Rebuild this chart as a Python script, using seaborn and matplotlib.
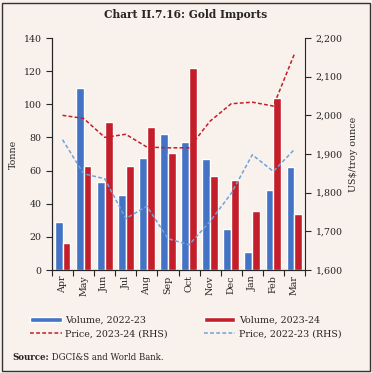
import numpy as np
import pandas as pd
import matplotlib.pyplot as plt
import seaborn as sns
from matplotlib.patches import Patch, Rectangle
from matplotlib.lines import Line2D

sns.set_style("ticks")
plt.rcParams['font.family'] = ['DejaVu Serif']

# data
months = ["Apr", "May", "Jun", "Jul", "Aug", "Sep", "Oct", "Nov", "Dec", "Jan", "Feb", "Mar"]
vol_2223 = [29, 110, 53, 45.5, 67.5, 82, 77, 67, 25, 11, 48, 62]
vol_2324 = [16, 63, 89.5, 62.5, 86, 70.5, 122, 56.5, 54.5, 35.5, 103.5, 33.5]
price_2324 = [2000, 1992, 1943, 1951, 1918, 1916, 1916, 1985, 2030, 2034, 2024, 2159]
price_2223 = [1937, 1849, 1836, 1733, 1765, 1681, 1665, 1726, 1798, 1898, 1855, 1912]

bg = "#F8F1EC"
blue = "#4472C4"
red = "#C41E2A"
lblue = "#6FA3DC"
fs = 6.8

df = pd.DataFrame({
    "month": months * 2,
    "volume": vol_2223 + vol_2324,
    "year": ["Volume, 2022-23"] * 12 + ["Volume, 2023-24"] * 12,
})

fig = plt.figure(figsize=(3.72, 3.73), dpi=100, facecolor=bg)
ax = fig.add_axes([52 / 372, 1 - 270 / 373, (305 - 52) / 372, (270 - 38) / 373])
ax.set_facecolor(bg)

sns.barplot(data=df, x="month", y="volume", hue="year", palette=[blue, red],
            width=0.74, saturation=1, ax=ax, legend=False)
ax.set_ylim(0, 140)
ax.set_yticks(np.arange(0, 141, 20))
ax.set_xlim(-0.5, 11.5)
ax.set_xlabel("")
ax.set_ylabel("Tonne", fontsize=fs, labelpad=4)
ax.set_xticks(np.arange(12))
ax.set_xticklabels(months, rotation=90)
ax.set_xticks(np.arange(-0.5, 12, 1), minor=True)
ax.tick_params(axis="x", which="major", length=0, labelsize=fs, pad=4)
ax.tick_params(axis="x", which="minor", length=4, width=0.8)
ax.tick_params(axis="y", length=4, width=0.8, labelsize=fs)
ax.spines["top"].set_visible(False)
ax.spines["right"].set_visible(False)

# price lines on the right axis
ax2 = ax.twinx()
x = np.arange(12)
sns.lineplot(x=x, y=price_2324, color=red, linestyle=(0, (2.5, 1.5)), lw=1.1, ax=ax2)
sns.lineplot(x=x, y=price_2223, color=lblue, linestyle=(0, (2.5, 1.5)), lw=1.1, ax=ax2)
ax2.set_ylim(1600, 2200)
ax2.set_yticks(np.arange(1600, 2201, 100))
ax2.set_yticklabels([f"{v:,}" for v in range(1600, 2201, 100)])
ax2.tick_params(axis="y", length=4, width=0.8, labelsize=fs)
ax2.set_ylabel("US$/troy ounce", fontsize=fs, rotation=90, labelpad=5)
ax2.spines["top"].set_visible(False)
ax2.set_xlim(-0.5, 11.5)

fig.text(0.5, 1 - 15 / 373, "Chart II.7.16: Gold Imports", ha="center", va="center",
         fontsize=7.7, fontweight="bold")

handles = [
    Patch(facecolor=blue), Patch(facecolor=red),
    Line2D([], [], color=red, linestyle=(0, (2.5, 1.5)), lw=1.1),
    Line2D([], [], color=lblue, linestyle=(0, (2.5, 1.5)), lw=1.1),
]
labels = ["Volume, 2022-23", "Volume, 2023-24", "Price, 2023-24 (RHS)", "Price, 2022-23 (RHS)"]
order = [0, 2, 1, 3]
fig.legend([handles[i] for i in order], [labels[i] for i in order], ncol=2,
           loc="center", bbox_to_anchor=(0.5, 1 - 327 / 373), frameon=False,
           fontsize=fs, handlelength=3.3, handleheight=0.45, columnspacing=3.8,
           handletextpad=0.4, labelspacing=0.45)

src = fig.text(12 / 372, 1 - 358 / 373, "Source:", fontsize=6.2, fontweight="bold",
               va="center", ha="left")
ax.annotate(" DGCI&S and World Bank.", xy=(1, 0.5), xycoords=src, va="center", ha="left",
            fontsize=6.2, annotation_clip=False)

fig.patches.append(Rectangle((2 / 372, 2 / 373), 368 / 372, 368 / 373, transform=fig.transFigure,
                             fill=False, edgecolor="#333333", lw=1))

fig.savefig("out.png", dpi=100, facecolor=bg)
